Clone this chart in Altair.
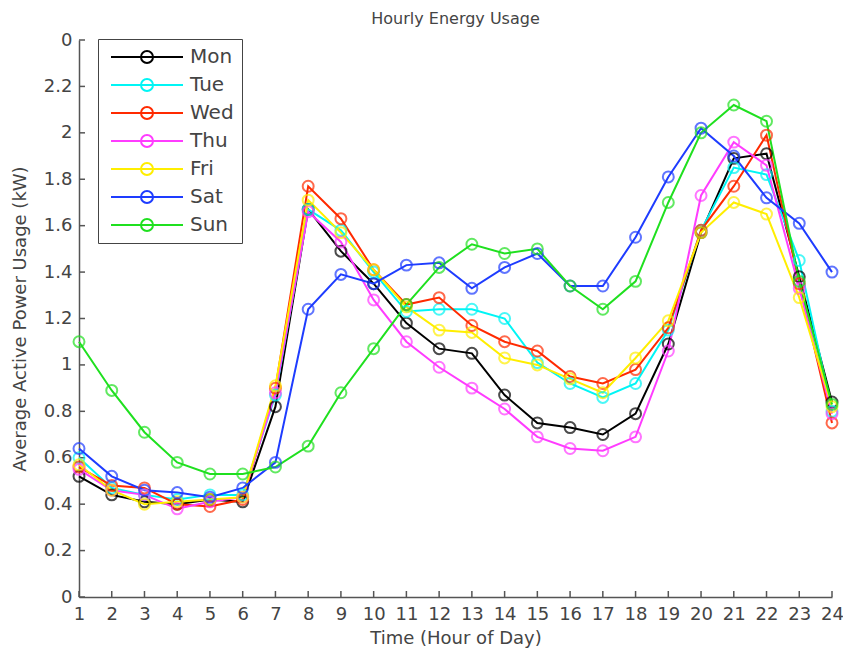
import altair as alt
import pandas as pd

hours = list(range(1, 25))
days = ["Mon", "Tue", "Wed", "Thu", "Fri", "Sat", "Sun"]
day_colors = ["#000000", "#00f5f5", "#ff2a00", "#ff3cff", "#ffee00", "#1e3cff", "#1fe01f"]

mon = [0.52, 0.44, 0.41, 0.40, 0.42, 0.41, 0.82, 1.67, 1.49, 1.35, 1.18, 1.07,
       1.05, 0.87, 0.75, 0.73, 0.70, 0.79, 1.09, 1.57, 1.89, 1.91, 1.38, 0.84]
tue = [0.60, 0.47, 0.44, 0.42, 0.44, 0.44, 0.87, 1.67, 1.58, 1.40, 1.23, 1.24,
       1.24, 1.20, 1.01, 0.92, 0.86, 0.92, 1.15, 1.58, 1.85, 1.82, 1.45, 0.80]
wed = [0.56, 0.48, 0.47, 0.40, 0.39, 0.42, 0.90, 1.77, 1.63, 1.41, 1.26, 1.29,
       1.17, 1.10, 1.06, 0.95, 0.92, 0.98, 1.16, 1.58, 1.77, 1.99, 1.35, 0.75]
thu = [0.55, 0.46, 0.44, 0.38, 0.41, 0.43, 0.88, 1.66, 1.53, 1.28, 1.10, 0.99,
       0.90, 0.81, 0.69, 0.64, 0.63, 0.69, 1.06, 1.73, 1.96, 1.86, 1.33, 0.79]
fri = [0.57, 0.46, 0.40, 0.41, 0.42, 0.43, 0.91, 1.71, 1.57, 1.41, 1.25, 1.15,
       1.14, 1.03, 1.00, 0.94, 0.88, 1.03, 1.19, 1.57, 1.70, 1.65, 1.29, 0.82]
sat = [0.64, 0.52, 0.46, 0.45, 0.43, 0.47, 0.58, 1.24, 1.39, 1.35, 1.43, 1.44,
       1.33, 1.42, 1.48, 1.34, 1.34, 1.55, 1.81, 2.02, 1.90, 1.72, 1.61, 1.40]
sun = [1.10, 0.89, 0.71, 0.58, 0.53, 0.53, 0.56, 0.65, 0.88, 1.07, 1.26, 1.42,
       1.52, 1.48, 1.50, 1.34, 1.24, 1.36, 1.70, 2.00, 2.12, 2.05, 1.36, 0.83]

series = {"Mon": mon, "Tue": tue, "Wed": wed, "Thu": thu, "Fri": fri, "Sat": sat, "Sun": sun}
rows = [{"hour": h, "value": v, "day": d} for d in days for h, v in zip(hours, series[d])]
df = pd.DataFrame(rows)

y_ticks = [0, 0.2, 0.4, 0.6, 0.8, 1.0, 1.2, 1.4, 1.6, 1.8, 2.0, 2.2, 2.4]
x_ticks = hours

W, H = 753, 557
FONT = "DejaVu Sans"
TXT = "#444444"
AX = "#555555"

x_enc = alt.X(
    "hour:Q",
    scale=alt.Scale(domain=[1, 24], nice=False, zero=False),
    axis=alt.Axis(values=x_ticks, title="Time (Hour of Day)", ticks=False, grid=False,
                  labelPadding=8, titlePadding=6, domainColor=AX, domainWidth=1.5,
                  labelFontSize=18, titleFontSize=18, labelColor=TXT, titleColor=TXT,
                  labelFont=FONT, titleFont=FONT, titleFontWeight="normal",
                  labelFlush=False, labelOverlap=False, format="d"),
)
y_enc = alt.Y(
    "value:Q",
    scale=alt.Scale(domain=[0, 2.4], nice=False),
    axis=alt.Axis(values=y_ticks, title="Average Active Power Usage (kW)", ticks=False, grid=False,
                  labelExpr="datum.value >= 2.39 ? '0' : format(datum.value, '~g')",
                  labelPadding=7, titlePadding=14, domainColor=AX, domainWidth=1.5,
                  labelFontSize=18, titleFontSize=18, labelColor=TXT, titleColor=TXT,
                  labelFont=FONT, titleFont=FONT, titleFontWeight="normal", labelFlush=False),
)

SYMBOL = "M-0.9,0L0.9,0M0.15,0A0.15,0.15,0,1,0,-0.15,0A0.15,0.15,0,1,0,0.15,0"

color_legend = alt.Color(
    "day:N",
    scale=alt.Scale(domain=days, range=day_colors),
    legend=alt.Legend(title=None, orient="none", legendX=19, legendY=-1,
                      symbolType=SYMBOL, symbolSize=6400, symbolStrokeWidth=2,
                      clipHeight=20, rowPadding=8, padding=8, labelOffset=2,
                      labelFontSize=20, labelFont=FONT, labelColor=TXT,
                      strokeColor="#444444", fillColor="white"),
)
color_plain = alt.Color("day:N", scale=alt.Scale(domain=days, range=day_colors), legend=None)

xtick = alt.Chart(pd.DataFrame({"hour": x_ticks})).mark_rule(color=AX, strokeWidth=1.5).encode(
    x=x_enc, y=alt.value(H), y2=alt.value(H - 6))
ytick = alt.Chart(pd.DataFrame({"value": y_ticks})).mark_rule(color=AX, strokeWidth=1.5).encode(
    y=y_enc, x=alt.value(0), x2=alt.value(6))

lines = alt.Chart(df).mark_line(strokeWidth=2).encode(x=x_enc, y=y_enc, color=color_legend)
points = alt.Chart(df).mark_point(shape="circle", filled=False, size=120, strokeWidth=2).encode(
    x=x_enc, y=y_enc, color=color_plain)

chart = alt.layer(xtick, ytick, lines, points).properties(
    width=W, height=H,
    title=alt.TitleParams("Hourly Energy Usage", fontSize=16, font=FONT, color=TXT,
                          fontWeight="normal", offset=4),
    autosize=alt.AutoSizeParams(type="none"),
    padding={"left": 71, "top": 32, "right": 11, "bottom": 56},
).configure_view(stroke=None)

chart.save("out.html", embed_options={"renderer": "svg", "actions": False})
